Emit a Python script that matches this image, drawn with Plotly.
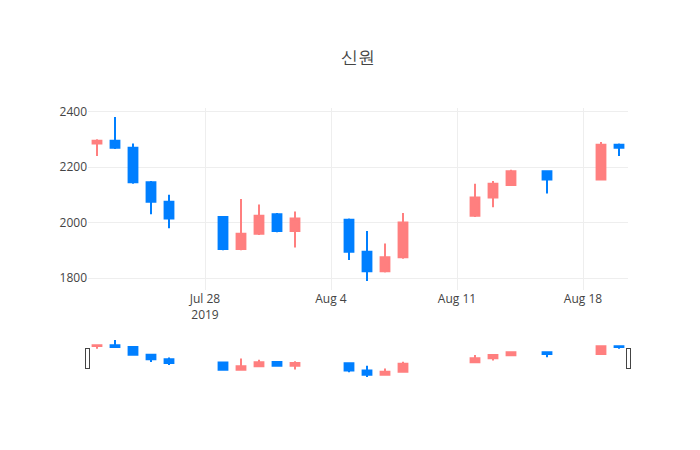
import plotly.graph_objects as go

dates = ["2019-07-22", "2019-07-23", "2019-07-24", "2019-07-25", "2019-07-26",
         "2019-07-29", "2019-07-30", "2019-07-31", "2019-08-01", "2019-08-02",
         "2019-08-05", "2019-08-06", "2019-08-07", "2019-08-08",
         "2019-08-12", "2019-08-13", "2019-08-14", "2019-08-16",
         "2019-08-19", "2019-08-20"]
open_ = [2285, 2295, 2270, 2145, 2075, 2020, 1905, 1960, 2030, 1970,
         2010, 1895, 1825, 1875, 2025, 2090, 2135, 2185, 2155, 2280]
high = [2300, 2380, 2285, 2150, 2100, 2020, 2085, 2065, 2035, 2040,
        2015, 1970, 1925, 2035, 2140, 2150, 2190, 2185, 2290, 2285]
low = [2240, 2265, 2140, 2030, 1980, 1900, 1900, 1955, 1965, 1910,
       1865, 1790, 1820, 1870, 2020, 2055, 2135, 2105, 2155, 2240]
close = [2295, 2270, 2145, 2075, 2015, 1905, 1960, 2025, 1970, 2015,
         1895, 1825, 1875, 2000, 2090, 2140, 2185, 2155, 2280, 2270]

fig = go.Figure(go.Candlestick(
    x=dates, open=open_, high=high, low=low, close=close,
    increasing=dict(line=dict(color="#FF7F7F"), fillcolor="#FF7F7F"),
    decreasing=dict(line=dict(color="#007FFF"), fillcolor="#007FFF"),
))
fig.update_layout(
    title=dict(text="신원", x=0.5, y=0.905),
    width=700, height=450,
    showlegend=False,
    paper_bgcolor="white", plot_bgcolor="white",
    font=dict(color="#444"),
    margin=dict(l=80, r=80, t=100, b=80),
    xaxis=dict(rangeslider=dict(visible=True), gridcolor="#eee", showline=False),
    yaxis=dict(gridcolor="#eee", zeroline=False),
)
fig.write_html("out.html")
